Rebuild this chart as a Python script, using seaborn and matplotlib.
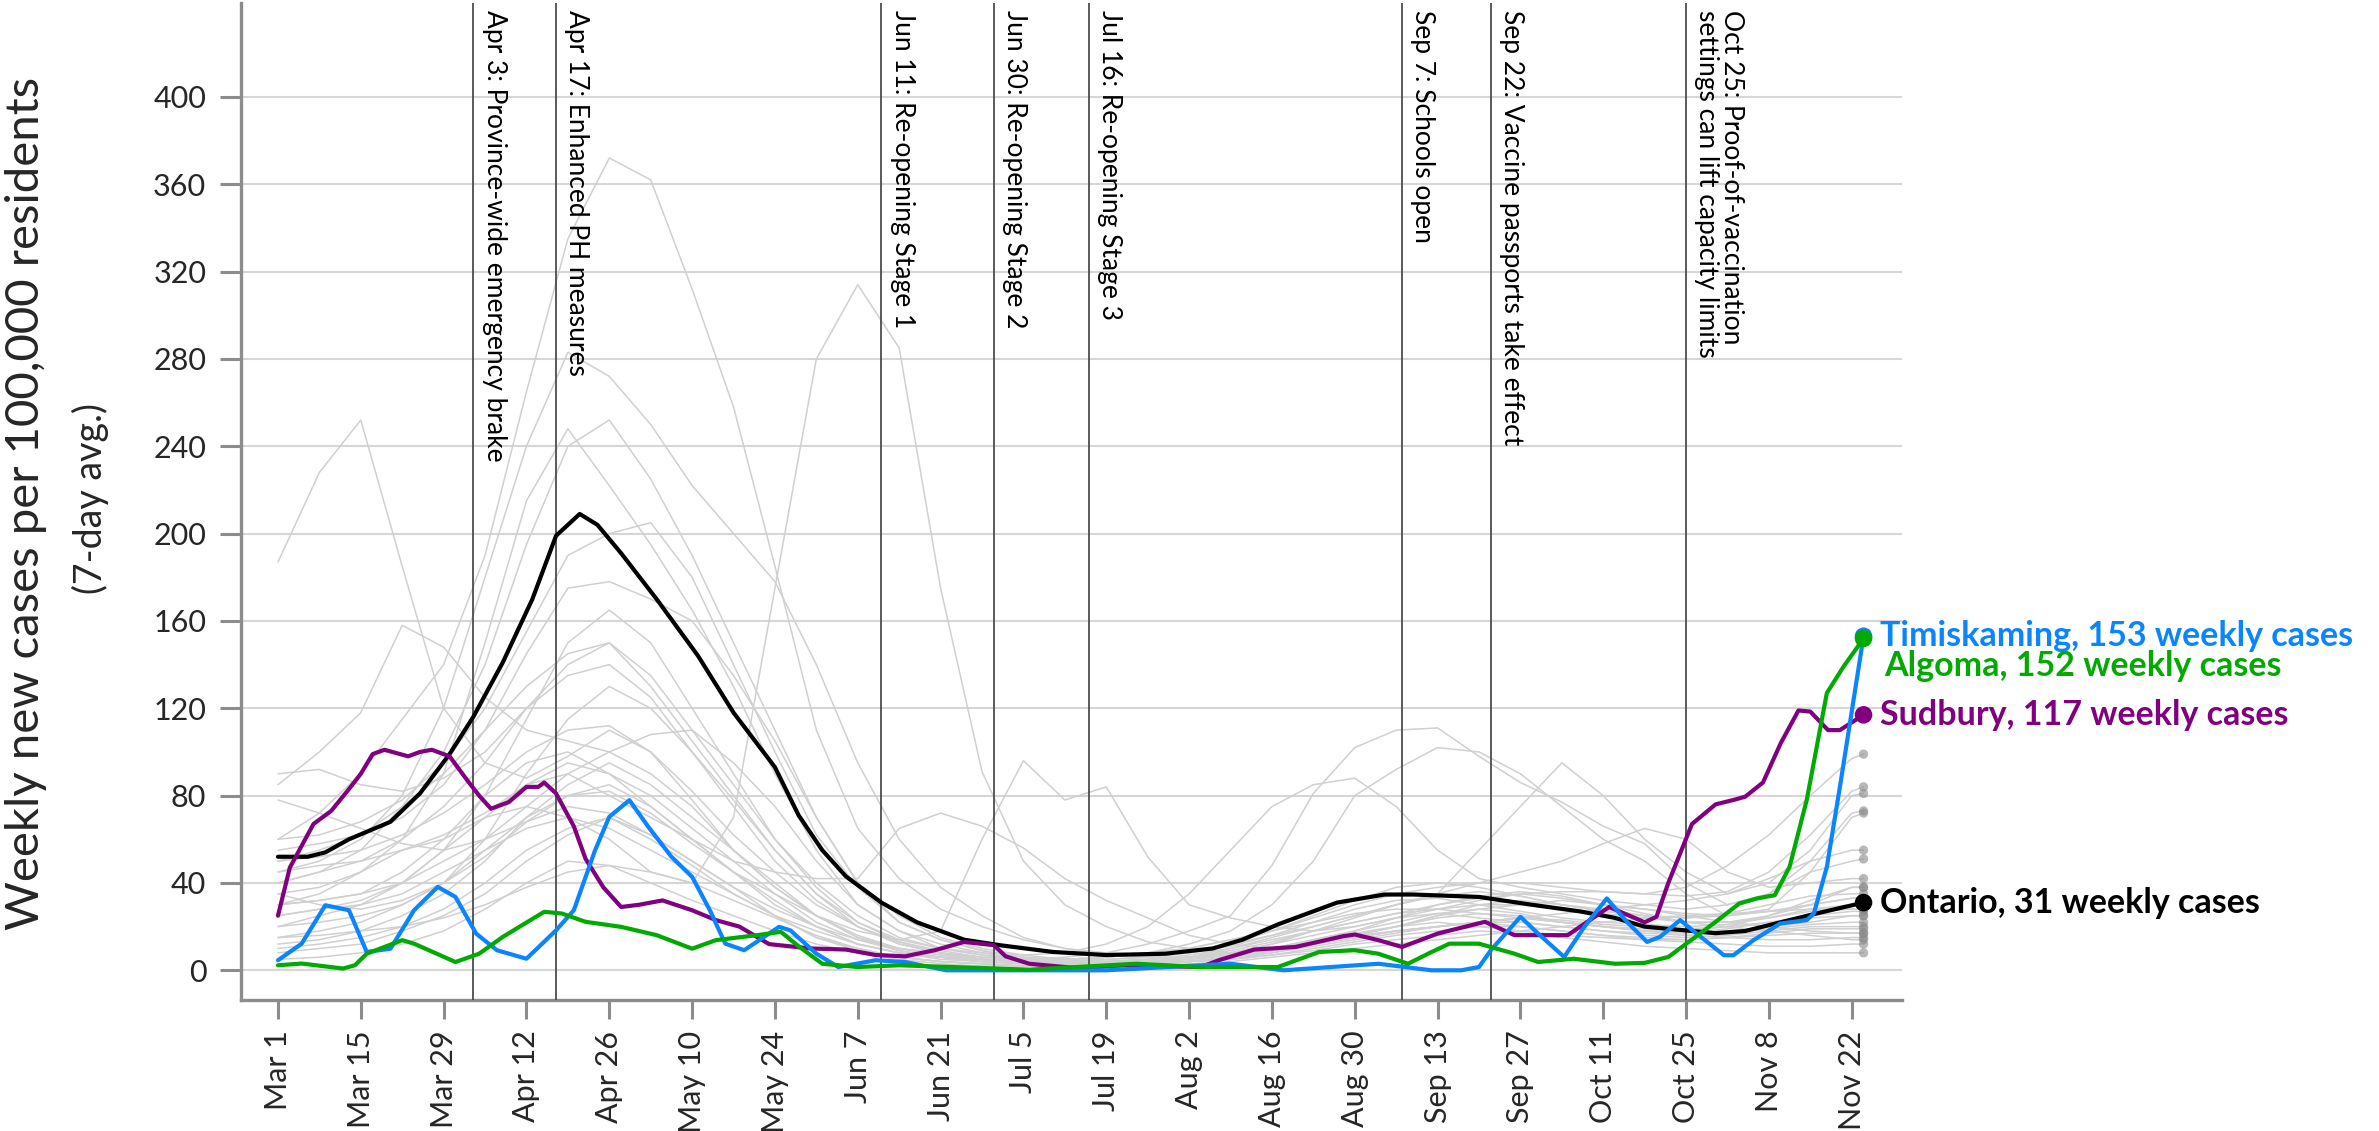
import matplotlib
matplotlib.use("Agg")
import matplotlib.dates as mdates
import matplotlib.pyplot as plt
import pandas as pd
import seaborn as sns

START = pd.Timestamp("2021-03-01")

# other health units, weekly from Mar 1 to Nov 22, plus the last day (Nov 24)
grey_days = list(range(0, 267, 7)) + [268]

other_01 = [187, 228, 252, 185, 120, 95, 88, 98, 110, 100, 78, 55, 38, 25, 16, 10, 7, 5, 4, 3,
            3, 3, 4, 6, 9, 12, 15, 18, 20, 22, 24, 22, 20, 18, 17, 19, 22, 25, 27, 27]
other_02 = [60, 72, 90, 115, 140, 190, 265, 335, 372, 362, 312, 258, 185, 110, 65, 42, 28, 20, 14, 10,
            8, 7, 8, 11, 16, 22, 28, 32, 33, 30, 27, 24, 22, 21, 20, 21, 24, 27, 28, 28]
other_03 = [35, 38, 45, 55, 60, 70, 75, 70, 60, 45, 40, 70, 175, 280, 314, 285, 175, 91, 50, 30,
            20, 13, 10, 8, 9, 12, 16, 20, 25, 28, 30, 32, 30, 28, 25, 22, 20, 18, 17, 17]
other_04 = [30, 32, 35, 45, 60, 80, 95, 100, 90, 75, 60, 45, 35, 25, 18, 14, 18, 60, 96, 78,
            84, 52, 30, 24, 20, 18, 20, 24, 28, 32, 35, 33, 30, 28, 26, 25, 27, 30, 33, 33]
other_05 = [20, 25, 30, 40, 55, 70, 85, 90, 80, 70, 60, 50, 45, 42, 42, 65, 72, 66, 56, 42,
            32, 24, 16, 12, 10, 12, 16, 20, 25, 30, 32, 30, 28, 25, 22, 22, 25, 30, 38, 38]
other_06 = [25, 28, 30, 35, 45, 55, 65, 70, 65, 55, 45, 35, 25, 18, 12, 8, 6, 5, 5, 6,
            8, 12, 18, 25, 48, 81, 102, 110, 111, 98, 86, 77, 66, 58, 40, 30, 35, 50, 72, 73]
other_07 = [40, 45, 50, 60, 75, 95, 120, 140, 150, 135, 110, 85, 60, 40, 25, 15, 10, 7, 5, 5,
            6, 8, 12, 18, 30, 50, 80, 92, 102, 100, 90, 75, 60, 50, 35, 25, 28, 45, 70, 72]
other_08 = [15, 18, 22, 30, 40, 55, 70, 80, 85, 75, 60, 45, 30, 20, 12, 8, 6, 5, 4, 4,
            5, 6, 8, 12, 16, 20, 25, 30, 35, 55, 75, 95, 80, 60, 45, 35, 40, 55, 80, 81]
other_09 = [50, 55, 62, 75, 90, 110, 130, 145, 150, 130, 105, 80, 55, 35, 22, 14, 10, 8, 7, 8,
            12, 20, 35, 55, 75, 85, 88, 75, 55, 42, 38, 35, 32, 30, 28, 30, 35, 45, 50, 51]
other_10 = [10, 12, 15, 20, 28, 40, 55, 65, 70, 62, 50, 38, 25, 15, 10, 6, 4, 3, 2, 2,
            3, 4, 6, 10, 15, 20, 25, 30, 35, 40, 45, 50, 58, 65, 60, 45, 38, 40, 42, 42]
other_11 = [85, 100, 118, 158, 148, 125, 110, 105, 100, 90, 75, 55, 38, 25, 15, 10, 8, 6, 5, 5,
            6, 8, 10, 14, 18, 22, 26, 28, 28, 26, 24, 22, 20, 19, 18, 18, 20, 22, 25, 25]
other_12 = [45, 50, 60, 80, 120, 180, 240, 283, 272, 250, 222, 200, 178, 140, 95, 60, 38, 25, 15, 10,
            7, 6, 6, 8, 12, 16, 20, 24, 26, 24, 22, 20, 18, 16, 15, 16, 18, 20, 20, 20]
other_13 = [40, 45, 55, 75, 100, 140, 195, 240, 252, 225, 190, 150, 110, 70, 40, 22, 14, 9, 6, 5,
            4, 4, 5, 7, 10, 14, 18, 22, 26, 28, 26, 22, 20, 18, 18, 20, 25, 32, 38, 38]
other_14 = [30, 35, 45, 60, 90, 150, 215, 248, 222, 195, 165, 130, 90, 55, 30, 18, 12, 8, 5, 4,
            3, 3, 4, 6, 9, 12, 15, 18, 20, 22, 20, 18, 16, 15, 14, 15, 17, 19, 19, 19]
other_15 = [55, 58, 62, 70, 85, 110, 145, 175, 178, 170, 160, 135, 105, 70, 40, 25, 15, 10, 7, 5,
            4, 4, 5, 8, 12, 18, 24, 30, 34, 36, 34, 30, 27, 25, 24, 26, 30, 34, 35, 35]
other_16 = [60, 62, 68, 78, 95, 120, 155, 190, 200, 205, 180, 140, 100, 62, 38, 22, 14, 9, 6, 5,
            5, 6, 8, 12, 18, 25, 32, 38, 40, 38, 34, 30, 27, 25, 24, 25, 27, 30, 33, 33]
other_17 = [25, 28, 32, 40, 55, 80, 115, 150, 165, 150, 120, 90, 60, 38, 22, 13, 8, 5, 4, 3,
            3, 3, 4, 6, 9, 13, 17, 20, 22, 20, 18, 16, 15, 14, 14, 15, 16, 17, 17, 17]
other_18 = [20, 22, 25, 30, 40, 60, 90, 115, 130, 120, 100, 75, 50, 32, 20, 12, 8, 5, 4, 3,
            3, 3, 4, 5, 8, 12, 16, 20, 24, 26, 25, 22, 20, 18, 16, 15, 14, 14, 15, 15]
other_19 = [30, 32, 35, 40, 50, 60, 75, 90, 100, 108, 110, 95, 75, 50, 30, 18, 10, 7, 5, 4,
            4, 4, 5, 7, 10, 14, 18, 24, 30, 34, 36, 34, 30, 26, 22, 20, 18, 16, 14, 14]
other_20 = [12, 14, 18, 25, 35, 50, 70, 85, 95, 85, 70, 55, 40, 25, 15, 9, 6, 4, 3, 3,
            3, 3, 4, 5, 7, 10, 13, 16, 18, 20, 20, 18, 16, 14, 13, 12, 11, 11, 12, 12]
other_21 = [8, 10, 12, 18, 25, 35, 50, 62, 70, 60, 48, 35, 25, 15, 9, 6, 4, 3, 2, 2,
            2, 3, 4, 5, 7, 9, 12, 14, 16, 18, 17, 15, 13, 11, 10, 9, 8, 8, 8, 8]
other_22 = [78, 72, 65, 58, 55, 60, 68, 75, 72, 62, 50, 38, 28, 20, 14, 10, 7, 5, 4, 4,
            4, 5, 6, 8, 10, 13, 16, 18, 20, 22, 24, 26, 28, 30, 32, 35, 42, 50, 55, 55]
other_23 = [5, 6, 8, 12, 18, 28, 40, 50, 48, 40, 32, 25, 18, 12, 8, 5, 3, 2, 2, 2,
            2, 2, 3, 4, 6, 8, 10, 12, 14, 16, 18, 20, 22, 24, 25, 26, 27, 28, 28, 28]
other_24 = [15, 16, 18, 20, 24, 30, 38, 45, 48, 45, 40, 32, 24, 16, 10, 6, 4, 3, 2, 2,
            2, 3, 4, 6, 8, 11, 14, 17, 20, 22, 24, 23, 21, 20, 19, 20, 22, 24, 25, 25]
other_25 = [90, 92, 85, 82, 88, 100, 120, 135, 140, 125, 100, 78, 55, 35, 20, 12, 8, 5, 4, 4,
            4, 5, 6, 9, 13, 18, 22, 26, 30, 33, 35, 36, 36, 35, 34, 36, 45, 62, 82, 84]
other_26 = [50, 52, 55, 62, 72, 85, 100, 110, 112, 100, 82, 62, 45, 30, 20, 13, 9, 6, 5, 5,
            6, 8, 10, 14, 18, 24, 30, 35, 38, 40, 40, 38, 36, 35, 38, 48, 62, 80, 97, 99]
other_27 = [45, 48, 50, 55, 62, 72, 85, 95, 90, 80, 65, 50, 35, 22, 14, 9, 6, 4, 3, 3,
            3, 4, 5, 7, 9, 12, 15, 18, 20, 22, 22, 20, 18, 17, 16, 17, 19, 21, 22, 22]
other_28 = [35, 30, 28, 32, 40, 52, 68, 80, 82, 72, 58, 45, 32, 20, 12, 8, 5, 4, 3, 3,
            4, 5, 7, 10, 14, 18, 22, 26, 28, 30, 30, 28, 26, 24, 22, 22, 24, 28, 30, 30]

other_units = [other_01, other_02, other_03, other_04, other_05, other_06, other_07,
               other_08, other_09, other_10, other_11, other_12, other_13, other_14,
               other_15, other_16, other_17, other_18, other_19, other_20, other_21,
               other_22, other_23, other_24, other_25, other_26, other_27, other_28]

# highlighted units: days after Mar 1 and weekly cases per 100k
ontario_days = [0, 5, 8, 12, 19, 24, 29, 33, 38, 43, 47, 51, 54, 58, 64, 71, 77, 84, 88, 92, 96,
                102, 108, 116, 122, 131, 140, 150, 158, 163, 169, 179, 187, 192, 203, 212, 220,
                226, 231, 243, 248, 254, 260, 268]
ontario_vals = [52, 52, 54, 60, 68, 81, 99, 116, 141, 170, 199, 209, 204, 191, 170, 144, 118, 93,
                71, 55, 43, 31, 22, 14, 11.5, 8.4, 7, 7.6, 10, 14, 21, 31, 34.7, 34.7, 33.6, 30,
                27, 24, 20, 17, 18, 22, 26, 31]

sudbury_days = [0, 2, 6, 9, 12, 14, 16, 18, 22, 24, 26, 29, 32, 34, 36, 39, 42, 44, 45, 47, 50,
                52, 55, 58, 61, 65, 70, 74, 78, 83, 90, 96, 101, 106, 111, 116, 121, 123, 127,
                135, 143, 156, 159, 165, 172, 180, 182, 186, 190, 196, 204, 209, 214, 218, 225,
                231, 233, 235, 239, 243, 246, 248, 251, 254, 257, 259, 262, 264, 268]
sudbury_vals = [25, 47, 67, 73, 83, 90, 99, 101, 98, 100, 101, 98, 87, 80, 74, 77, 84, 84, 86, 81,
                66, 51, 38, 29, 30, 32, 27.5, 23, 20, 12, 10, 9.5, 7, 6.4, 9.2, 13, 11.5, 6.4, 3,
                1, 2.3, 1.5, 4.6, 9.5, 10.7, 15.6, 16.4, 13.8, 10.7, 16.8, 22.2, 16.1, 16.1, 16.1,
                29, 22, 24.5, 40, 67, 76, 78, 79.5, 86, 104, 119, 118.5, 110, 110, 117]

algoma_days = [0, 4, 11, 13, 15, 21, 23, 30, 34, 38, 45, 48, 52, 58, 64, 70, 74, 81, 85, 88, 92,
               98, 105, 114, 127, 145, 156, 169, 176, 182, 186, 191, 195, 198, 203, 209, 213,
               219, 226, 231, 235, 240, 243, 247, 250, 253, 255.5, 258.4, 261.8, 264.6, 268]
algoma_vals = [2.3, 3.1, 0.8, 2.3, 7.6, 13.8, 12.2, 3.8, 7.6, 15.3, 26.8, 26, 22.2, 19.9, 16.1,
               9.9, 13.8, 16.1, 17.6, 11, 3, 1.5, 2.3, 1.5, 0.3, 3, 1.5, 1.5, 8.4, 9.2, 7.6, 3,
               8.4, 12.2, 12.2, 7.6, 3.8, 5.3, 3, 3.4, 6.1, 16.1, 22.2, 30.6, 32.9, 34.4, 47.4,
               78, 127, 139, 152]

timiskaming_days = [0, 4, 8, 12, 15, 19, 23, 27, 30, 33.5, 37, 42, 47, 50, 53.6, 56, 59.4, 62.6,
                    66.5, 70, 73, 75.6, 78.8, 84.7, 86.6, 91, 94.7, 101, 106, 113, 140, 161, 170,
                    186, 195, 200, 203, 205, 210, 213, 217.4, 220.8, 224.6, 228, 231.4, 233.6,
                    237, 239.8, 244.4, 246, 249.4, 253.9, 258.4, 259.6, 261.8, 264.1, 268]
timiskaming_vals = [4.6, 12.2, 29.8, 27.5, 8.4, 9.9, 27.5, 38.2, 33.6, 16.8, 9.2, 5.3, 18.3, 27.5,
                    55, 70.3, 77.9, 65.7, 52, 42.8, 27.5, 12.2, 9.2, 19.9, 18.3, 7.6, 1.5, 4.6,
                    3.8, 0, 0, 3, 0, 3, 0, 0, 1.5, 9.2, 24.5, 16.8, 6.1, 19.9, 32.9, 22.2, 13,
                    15.3, 23, 16.8, 6.9, 6.9, 13.8, 21.4, 23, 26, 47.4, 85.6, 153]

event_dates = ["2021-04-03", "2021-04-17", "2021-06-11", "2021-06-30", "2021-07-16",
               "2021-09-07", "2021-09-22", "2021-10-25"]
event_labels = ["Apr 3: Province-wide emergency brake",
                "Apr 17: Enhanced PH measures",
                "Jun 11: Re-opening Stage 1",
                "Jun 30: Re-opening Stage 2",
                "Jul 16: Re-opening Stage 3",
                "Sep 7: Schools open",
                "Sep 22: Vaccine passports take effect",
                "Oct 25: Proof-of-vaccination\nsettings can lift capacity limits"]

y_ticks = list(range(0, 401, 40))


def to_dates(days):
    return START + pd.to_timedelta(days, unit="D")


sns.set_theme(style="white")
plt.rcParams["font.family"] = ["Lato", "DejaVu Sans"]
NARROW = ["Liberation Sans Narrow", "Lato", "DejaVu Sans"]

fig = plt.figure(figsize=(23.79, 11.31), dpi=100)
ax = fig.add_axes([241 / 2379, 1 - 1000 / 1131, (1902 - 241) / 2379, 997 / 1131])

rows = []
for i, vals in enumerate(other_units):
    for d, v in zip(grey_days, vals):
        rows.append({"unit": i, "date": START + pd.Timedelta(days=d), "rate": v})
grey_df = pd.DataFrame(rows)

sns.lineplot(data=grey_df, x="date", y="rate", units="unit", estimator=None,
             color="#d0d0d0", linewidth=1.1, legend=False, ax=ax, zorder=2)

for ev in event_dates:
    ax.axvline(pd.Timestamp(ev), color="#4d4d4d", linewidth=1.3, zorder=3)

highlights = [
    ("Ontario", ontario_days, ontario_vals, "black", 0, 12),
    ("Sudbury", sudbury_days, sudbury_vals, "#800080", 0, 12),
    ("Timiskaming", timiskaming_days, timiskaming_vals, "#0A84FF", 0, 12),
    ("Algoma", algoma_days, algoma_vals, "#00AA00", -20, 15),
]
for name, days, vals, color, dy, dx in highlights:
    sns.lineplot(x=to_dates(days), y=vals, color=color, linewidth=3.0, ax=ax, zorder=5)

end_date = START + pd.Timedelta(days=grey_days[-1])
grey_ends = [vals[-1] for vals in other_units]
sns.scatterplot(x=[end_date] * len(grey_ends), y=grey_ends, color="#8a8a8a", alpha=0.6,
                s=45, edgecolor="none", ax=ax, zorder=4)

for name, days, vals, color, dy, dx in highlights:
    ax.scatter([end_date], [vals[-1]], color=color, s=160, zorder=6, edgecolor="none")
    ax.annotate(f"{name}, {round(vals[-1])} weekly cases",
                xy=(mdates.date2num(end_date), vals[-1]), xytext=(dx, dy),
                textcoords="offset points", color=color, fontsize=24.5, fontweight="bold",
                ha="left", va="center", annotation_clip=False)

for ev, label in zip(event_dates, event_labels):
    ax.annotate(label, xy=(mdates.date2num(pd.Timestamp(ev)), 1),
                xycoords=("data", "axes fraction"), xytext=(6, -5),
                textcoords="offset points", rotation=270, ha="left", va="top",
                fontsize=19, color="black", multialignment="left", linespacing=1.0)

ax.set_xlim(START - pd.Timedelta(days=6.25), START + pd.Timedelta(days=274.5))
ax.set_ylim(-13.6, 443)
ax.set_yticks(y_ticks)
xt = pd.date_range(START, periods=20, freq="14D")
ax.set_xticks(xt)
ax.set_xticklabels([f"{d:%b} {d.day}" for d in xt])
ax.set_xlabel("")
ax.set_ylabel("")

ax.yaxis.grid(True, color="#d6d6d6", linewidth=1.5)
ax.xaxis.grid(False)
ax.set_axisbelow(True)
for side in ["top", "right"]:
    ax.spines[side].set_visible(False)
for side in ["left", "bottom"]:
    ax.spines[side].set_color("#8c8c8c")
    ax.spines[side].set_linewidth(2.4)
ax.tick_params(axis="y", length=15, width=2.2, color="#8c8c8c", pad=10, labelsize=22,
               left=True)
ax.tick_params(axis="x", length=14, width=2.2, color="#8c8c8c", pad=8, labelsize=22,
               labelrotation=90, bottom=True)

fig.text(0.002, 1 - 503 / 1131, "Weekly new cases per 100,000 residents", rotation=90,
         ha="left", va="center", fontsize=34, family=NARROW)
fig.text(72 / 2379, 1 - 498 / 1131, "(7-day avg.)", rotation=90, ha="left", va="center",
         fontsize=27, family=NARROW)

fig.savefig("out.png", dpi=100)
